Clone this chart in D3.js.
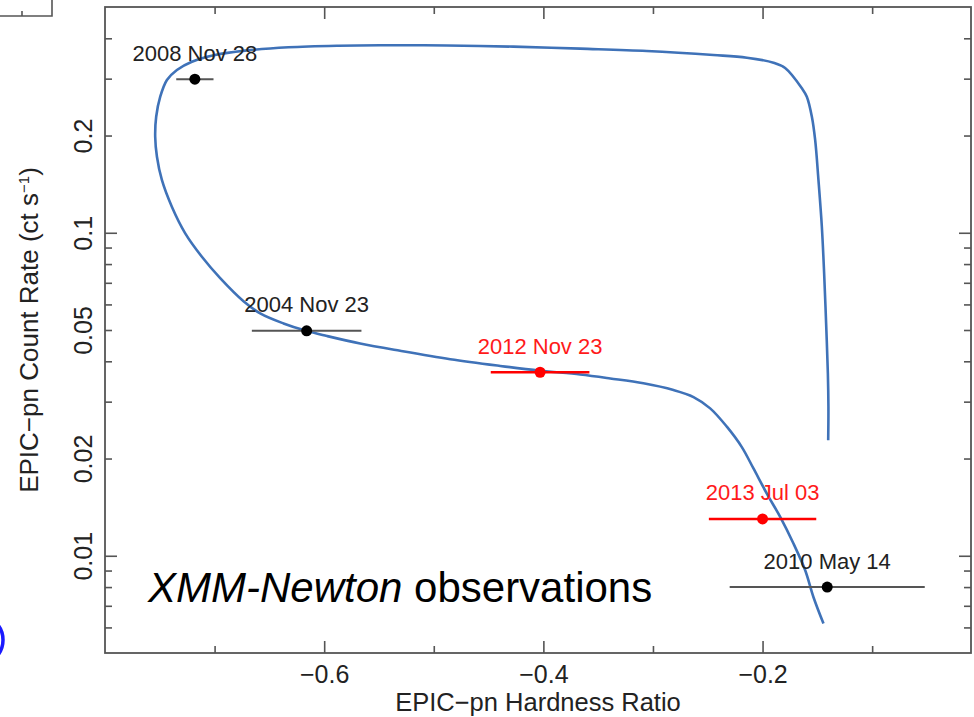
<!DOCTYPE html>
<html>
<head>
<meta charset="utf-8">
<script src="https://cdn.jsdelivr.net/npm/d3@7"></script>
<style>
  html, body { margin: 0; padding: 0; background: #fff; }
  svg { display: block; font-family: "Liberation Sans", Arial, Helvetica, sans-serif; }
</style>
</head>
<body>
<svg id="chart" width="974" height="717"></svg>
<script>
// XMM-Newton observation epochs
const obsDates = ["2008 Nov 28", "2004 Nov 23", "2012 Nov 23", "2013 Jul 03", "2010 May 14"];
const obsHR = [-0.718, -0.616, -0.403, -0.200, -0.141];
const obsHRErr = [0.017, 0.050, 0.045, 0.049, 0.089];
const obsRate = [0.299, 0.0497, 0.0370, 0.0130, 0.0080];
const obsIsNew = [false, false, true, true, false];

// Model track in the hardness-ratio / count-rate plane
const trackHR = [
  -0.1401, -0.1399, -0.1404, -0.1420, -0.1438, -0.1459, -0.1490, -0.1520, -0.1550, -0.1596,
  -0.1641, -0.1794, -0.1900, -0.2143, -0.2448, -0.3056, -0.3664, -0.4273, -0.4880,
  -0.5489, -0.5870, -0.6326, -0.6721, -0.6995, -0.7207, -0.7344, -0.7435, -0.7496, -0.7533,
  -0.7542, -0.7526, -0.7481, -0.7390, -0.7268, -0.7116, -0.6949, -0.6736, -0.6584, -0.6371,
  -0.6164, -0.5975, -0.5672, -0.5307, -0.4850, -0.4394, -0.4029, -0.3664, -0.3390, -0.3087,
  -0.2813, -0.2630, -0.2478, -0.2326, -0.2189, -0.2083, -0.1961, -0.1839, -0.1718, -0.1611,
  -0.1536, -0.1444
];
const trackRate = [
  0.02279, 0.02891, 0.03667, 0.0524, 0.0748, 0.1044, 0.1457, 0.1938, 0.2287, 0.2638,
  0.2801, 0.3237, 0.3362, 0.3484, 0.3552, 0.3655, 0.3715, 0.3769, 0.3800,
  0.3808, 0.3795, 0.3752, 0.3663, 0.3552, 0.3386, 0.3192, 0.2972, 0.2638, 0.2287,
  0.1984, 0.1720, 0.1457, 0.1204, 0.0996, 0.0843, 0.0724, 0.0614, 0.0563, 0.0524,
  0.0497, 0.0479, 0.0454, 0.0431, 0.0406, 0.0387, 0.0374, 0.0364, 0.0354, 0.0342,
  0.0326, 0.0310, 0.0286, 0.0251, 0.0217, 0.01863, 0.01558, 0.01319, 0.01091, 0.009017,
  0.007455, 0.006166
];

// Axis ticks
const xMajorTicks = [-0.6, -0.4, -0.2];
const xMinorTicks = [-0.7, -0.5, -0.3, -0.1];
const yLabelTicks = [0.01, 0.02, 0.05, 0.1, 0.2];
const yDecadeTicks = [0.01, 0.1];
const yMinorTicks = [0.006, 0.007, 0.008, 0.009, 0.02, 0.03, 0.04, 0.05, 0.06, 0.07, 0.08, 0.09, 0.2, 0.3, 0.4];

const svg = d3.select("#chart");
const plot = { left: 105, top: 7, right: 971, bottom: 653 };

const x = d3.scaleLinear().domain([-0.8, -0.0098]).range([plot.left, plot.right]);
const y = d3.scaleLog().domain([0.005, 0.5]).range([plot.bottom, plot.top]);

const axisColor = "#555";
const textColor = "#222";

// Fragments of the neighbouring panel and annotation ring at the page edge
svg.append("path")
  .attr("d", "M0,16 H52 V0 M22,16 V11")
  .attr("fill", "none").attr("stroke", axisColor).attr("stroke-width", 1.6);
svg.append("ellipse")
  .attr("cx", -16).attr("cy", 640).attr("rx", 19).attr("ry", 22)
  .attr("fill", "none").attr("stroke", "#1a1aff").attr("stroke-width", 3.5);

// Inward-pointing ticks on all four sides
function styleAxis(g) {
  g.select(".domain").remove();
  g.selectAll(".tick line").attr("stroke", axisColor).attr("stroke-width", 1.6);
}

svg.append("g").attr("transform", `translate(0,${plot.bottom})`)
  .call(d3.axisBottom(x).tickValues(xMajorTicks).tickSize(-12).tickPadding(12)
    .tickFormat(d3.format(".1f")))
  .call(styleAxis)
  .call(g => g.selectAll("text").attr("font-size", 25).attr("fill", textColor)
    .attr("font-family", "Liberation Sans, Arial, sans-serif"));
svg.append("g").attr("transform", `translate(0,${plot.bottom})`)
  .call(d3.axisBottom(x).tickValues(xMinorTicks).tickSize(-7).tickFormat(""))
  .call(styleAxis);
svg.append("g").attr("transform", `translate(0,${plot.top})`)
  .call(d3.axisTop(x).tickValues(xMajorTicks).tickSize(-12).tickFormat(""))
  .call(styleAxis);
svg.append("g").attr("transform", `translate(0,${plot.top})`)
  .call(d3.axisTop(x).tickValues(xMinorTicks).tickSize(-7).tickFormat(""))
  .call(styleAxis);

const yLeft = svg.append("g").attr("transform", `translate(${plot.left},0)`);
yLeft.append("g")
  .call(d3.axisLeft(y).tickValues(yLabelTicks).tickSize(0).tickFormat(d3.format("~g")))
  .call(styleAxis)
  .call(g => g.selectAll("text")
    .attr("font-size", 25).attr("fill", textColor)
    .attr("font-family", "Liberation Sans, Arial, sans-serif")
    .attr("text-anchor", "middle")
    .attr("x", 0).attr("y", -13).attr("dy", 0)
    .attr("transform", "rotate(-90)"));
yLeft.append("g")
  .call(d3.axisLeft(y).tickValues(yDecadeTicks).tickSize(-12).tickFormat(""))
  .call(styleAxis);
yLeft.append("g")
  .call(d3.axisLeft(y).tickValues(yMinorTicks).tickSize(-7).tickFormat(""))
  .call(styleAxis);

const yRight = svg.append("g").attr("transform", `translate(${plot.right},0)`);
yRight.append("g")
  .call(d3.axisRight(y).tickValues(yDecadeTicks).tickSize(-12).tickFormat(""))
  .call(styleAxis);
yRight.append("g")
  .call(d3.axisRight(y).tickValues(yMinorTicks).tickSize(-7).tickFormat(""))
  .call(styleAxis);

// Plot frame
svg.append("rect")
  .attr("x", plot.left).attr("y", plot.top)
  .attr("width", plot.right - plot.left).attr("height", plot.bottom - plot.top)
  .attr("fill", "none").attr("stroke", axisColor).attr("stroke-width", 1.8);

// Axis titles
svg.append("text")
  .attr("x", (plot.left + plot.right) / 2).attr("y", 711)
  .attr("text-anchor", "middle").attr("font-size", 25.5).attr("fill", textColor)
  .text("EPIC\u2212pn Hardness Ratio");

const yTitle = svg.append("text")
  .attr("transform", `translate(38,${(plot.top + plot.bottom) / 2}) rotate(-90)`)
  .attr("text-anchor", "middle").attr("font-size", 26).attr("fill", textColor);
yTitle.append("tspan").text("EPIC\u2212pn Count Rate (ct s");
yTitle.append("tspan").attr("font-size", 15).attr("dy", -9).text("\u22121");
yTitle.append("tspan").attr("dy", 9).text(")");

// Model track
const track = trackHR.map((h, i) => ({ hr: h, rate: trackRate[i] }));
svg.append("path")
  .datum(track)
  .attr("fill", "none")
  .attr("stroke", "#3f72b8")
  .attr("stroke-width", 2.6)
  .attr("stroke-linejoin", "round")
  .attr("d", d3.line().x(d => x(d.hr)).y(d => y(d.rate)).curve(d3.curveCatmullRom.alpha(0.5)));

// Observations with hardness-ratio error bars
const obs = obsDates.map((label, i) => ({
  label, hr: obsHR[i], err: obsHRErr[i], rate: obsRate[i], isNew: obsIsNew[i]
}));
const barColor = d => d.isNew ? "#ff0000" : "#555";
const dotColor = d => d.isNew ? "#ff0000" : "#000";
const labelColor = d => d.isNew ? "#ff1a1a" : textColor;

const g = svg.append("g");
g.selectAll("line.err").data(obs).join("line")
  .attr("class", "err")
  .attr("x1", d => x(d.hr - d.err)).attr("x2", d => x(d.hr + d.err))
  .attr("y1", d => y(d.rate)).attr("y2", d => y(d.rate))
  .attr("stroke", barColor).attr("stroke-width", d => d.isNew ? 2.6 : 2);
g.selectAll("circle").data(obs).join("circle")
  .attr("cx", d => x(d.hr)).attr("cy", d => y(d.rate)).attr("r", 5.5)
  .attr("fill", dotColor);
g.selectAll("text").data(obs).join("text")
  .attr("x", d => x(d.hr)).attr("y", d => y(d.rate) - 18.5)
  .attr("text-anchor", "middle").attr("font-size", 22)
  .attr("fill", labelColor)
  .text(d => d.label);

// Instrument annotation
const note = svg.append("text").attr("x", 148).attr("y", 602)
  .attr("font-size", 42).attr("fill", "#000");
note.append("tspan").attr("font-style", "italic").text("XMM-Newton");
note.append("tspan").text(" observations");
</script>
</body>
</html>
